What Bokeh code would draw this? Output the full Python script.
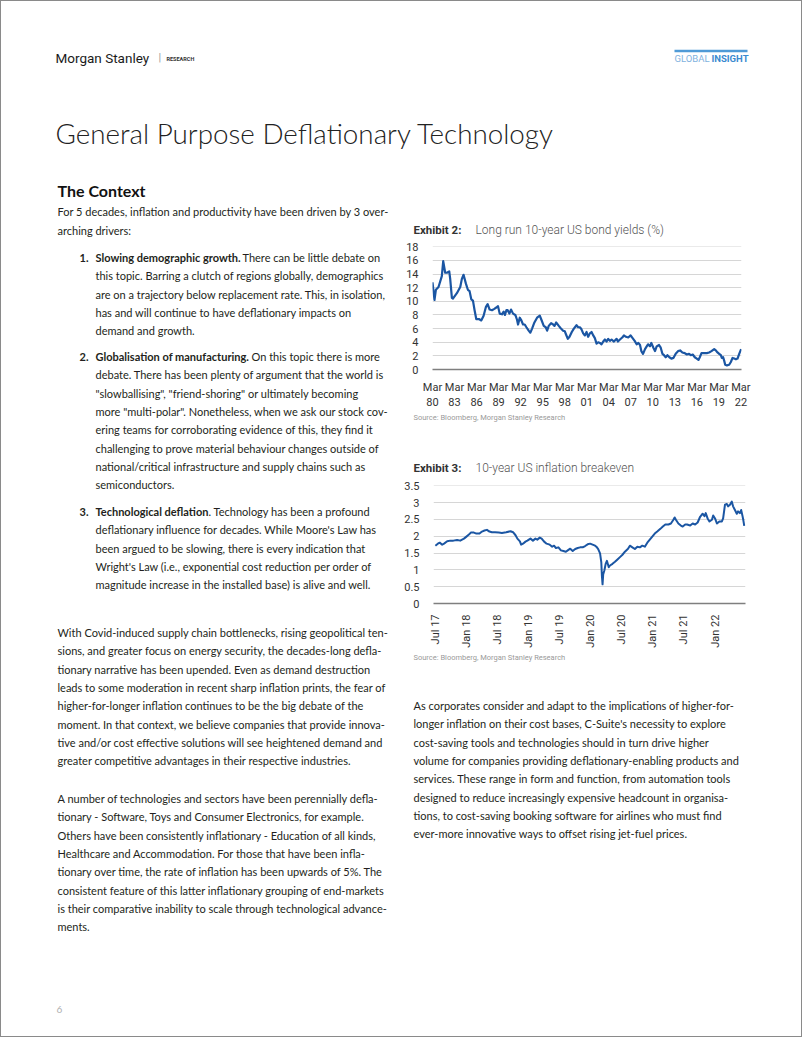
from bokeh.plotting import figure
from bokeh.layouts import column, row
from bokeh.models import Range1d, FixedTicker, GlobalInlineStyleSheet
from bokeh.core.properties import value
from bokeh.embed import file_html
from bokeh.resources import INLINE
import math

# ---------------- data ----------------
yield_years = [1980.17, 1980.44, 1980.63, 1980.99, 1981.44, 1981.63, 1981.90, 1982.13, 1982.45, 1982.58,
               1982.81, 1982.95, 1983.49, 1983.95, 1984.17, 1984.40, 1984.72, 1984.99, 1985.22, 1985.45,
               1985.68, 1985.90, 1986.13, 1986.49, 1986.81, 1987.13, 1987.45, 1987.68, 1987.95, 1988.27,
               1988.59, 1988.86, 1989.09, 1989.32, 1989.63, 1989.86, 1990.04, 1990.23, 1990.41, 1990.64,
               1990.86, 1991.14, 1991.45, 1991.68, 1991.82, 1992.05, 1992.23, 1992.50, 1992.73, 1992.96,
               1993.27, 1993.50, 1993.73, 1994.05, 1994.41, 1994.78, 1995.00, 1995.32, 1995.59, 1995.78,
               1996.00, 1996.32, 1996.60, 1996.78, 1997.01, 1997.37, 1997.60, 1997.96, 1998.19, 1998.37,
               1998.60, 1998.83, 1999.14, 1999.42, 1999.78, 2000.01, 2000.24, 2000.46, 2000.69, 2000.92,
               2001.15, 2001.37, 2001.60, 2001.83, 2002.06, 2002.28, 2002.51, 2002.74, 2002.97, 2003.19,
               2003.42, 2003.65, 2003.88, 2004.10, 2004.33, 2004.56, 2004.88, 2005.24, 2005.42, 2005.70,
               2006.01, 2006.24, 2006.51, 2006.83, 2007.15, 2007.42, 2007.70, 2007.97, 2008.20, 2008.43,
               2008.61, 2008.84, 2009.11, 2009.34, 2009.52, 2009.79, 2009.97, 2010.25, 2010.47, 2010.70,
               2011.02, 2011.25, 2011.48, 2011.70, 2011.93, 2012.16, 2012.43, 2012.70, 2012.98, 2013.29,
               2013.61, 2013.89, 2014.20, 2014.52, 2014.80, 2015.11, 2015.34, 2015.61, 2015.89, 2016.16,
               2016.39, 2016.57, 2016.80, 2017.16, 2017.53, 2017.84, 2018.16, 2018.53, 2018.75, 2018.98,
               2019.21, 2019.44, 2019.57, 2019.75, 2019.89, 2020.03, 2020.26, 2020.57, 2020.80, 2021.03,
               2021.26, 2021.49, 2021.71, 2021.94, 2022.20]
yield_pct = [12.8, 10.2, 11.7, 12.1, 13.7, 15.9, 14.2, 14.2, 14.4, 13.3,
             10.5, 10.4, 11.2, 12.1, 13.3, 13.9, 12.6, 11.7, 11.5, 10.3,
             10.1, 8.7, 7.4, 7.4, 7.2, 7.9, 9.2, 9.6, 8.8, 8.7,
             8.9, 9.1, 9.3, 8.2, 8.1, 8.5, 8.0, 8.7, 8.7, 8.2,
             8.8, 8.2, 8.0, 7.3, 6.6, 7.6, 7.3, 6.6, 6.6, 6.2,
             5.7, 5.4, 6.0, 6.9, 7.6, 7.9, 7.3, 6.4, 6.2, 5.7,
             6.4, 6.8, 6.6, 6.4, 6.9, 6.4, 6.1, 5.7, 5.6, 5.1,
             4.5, 4.8, 5.5, 6.0, 6.5, 6.2, 6.2, 5.9, 5.3, 5.0,
             5.5, 4.8, 5.3, 5.5, 5.0, 4.6, 3.8, 4.0, 3.9, 3.7,
             4.1, 4.4, 4.1, 4.5, 4.2, 4.4, 4.1, 4.5, 4.1, 4.4,
             4.7, 5.0, 4.8, 4.7, 5.0, 4.6, 4.2, 3.7, 3.9, 3.6,
             2.7, 2.3, 3.0, 3.4, 3.7, 3.4, 3.9, 3.2, 2.7, 3.4,
             3.6, 3.2, 2.3, 2.1, 1.8, 2.1, 1.8, 1.6, 1.7, 2.3,
             2.7, 2.8, 2.5, 2.4, 2.2, 2.3, 2.1, 2.2, 1.8, 1.6,
             1.4, 1.8, 2.4, 2.4, 2.4, 2.5, 2.7, 3.0, 2.8, 2.5,
             2.3, 2.1, 1.7, 1.8, 1.3, 0.7, 0.6, 0.7, 1.1, 1.7,
             1.6, 1.5, 1.6, 2.3, 3.0]
yield_ticks = [1980.17, 1983.17, 1986.17, 1989.17, 1992.17, 1995.17, 1998.17, 2001.17,
               2004.17, 2007.17, 2010.17, 2013.17, 2016.17, 2019.17, 2022.17]
yield_tick_labels = ["Mar\n80", "Mar\n83", "Mar\n86", "Mar\n89", "Mar\n92", "Mar\n95", "Mar\n98",
                     "Mar\n01", "Mar\n04", "Mar\n07", "Mar\n10", "Mar\n13", "Mar\n16", "Mar\n19", "Mar\n22"]
yield_yticks = [0, 2, 4, 6, 8, 10, 12, 14, 16, 18]

be_years = [2017.50, 2017.54, 2017.57, 2017.61, 2017.64, 2017.69, 2017.74, 2017.79, 2017.85, 2017.90,
            2017.96, 2018.00, 2018.04, 2018.07, 2018.12, 2018.16, 2018.21, 2018.25, 2018.29, 2018.33,
            2018.37, 2018.41, 2018.46, 2018.52, 2018.57, 2018.64, 2018.71, 2018.75, 2018.79, 2018.82,
            2018.86, 2018.88, 2018.91, 2018.95, 2018.98, 2019.03, 2019.07, 2019.11, 2019.14, 2019.18,
            2019.21, 2019.25, 2019.29, 2019.34, 2019.38, 2019.41, 2019.44, 2019.48, 2019.52, 2019.56,
            2019.60, 2019.63, 2019.67, 2019.71, 2019.75, 2019.79, 2019.83, 2019.87, 2019.91, 2019.95,
            2019.99, 2020.03, 2020.07, 2020.10, 2020.12, 2020.15, 2020.17, 2020.18, 2020.19, 2020.20,
            2020.22, 2020.24, 2020.26, 2020.29, 2020.31, 2020.35, 2020.39, 2020.43, 2020.47, 2020.51,
            2020.55, 2020.60, 2020.63, 2020.67, 2020.71, 2020.75, 2020.79, 2020.83, 2020.87, 2020.91,
            2020.95, 2020.99, 2021.03, 2021.07, 2021.12, 2021.16, 2021.20, 2021.25, 2021.29, 2021.33,
            2021.35, 2021.37, 2021.41, 2021.45, 2021.48, 2021.52, 2021.55, 2021.60, 2021.64, 2021.68,
            2021.72, 2021.76, 2021.80, 2021.83, 2021.85, 2021.88, 2021.91, 2021.95, 2021.97, 2022.00,
            2022.03, 2022.07, 2022.11, 2022.13, 2022.16, 2022.19, 2022.21, 2022.24, 2022.27, 2022.29,
            2022.32, 2022.35, 2022.37, 2022.40, 2022.42, 2022.44, 2022.45, 2022.47]
be_pct = [1.72, 1.78, 1.81, 1.75, 1.78, 1.85, 1.87, 1.87, 1.89, 1.87,
          1.93, 1.99, 2.05, 2.11, 2.11, 2.08, 2.08, 2.14, 2.17, 2.19,
          2.14, 2.12, 2.12, 2.11, 2.10, 2.12, 2.15, 2.12, 2.03, 1.93,
          1.85, 1.75, 1.78, 1.84, 1.87, 1.93, 1.87, 1.93, 1.90, 1.96,
          1.93, 1.84, 1.78, 1.75, 1.69, 1.72, 1.65, 1.67, 1.58, 1.56,
          1.54, 1.58, 1.63, 1.56, 1.62, 1.65, 1.67, 1.67, 1.71, 1.76,
          1.78, 1.75, 1.72, 1.67, 1.62, 1.49, 1.22, 0.81, 0.57, 0.86,
          0.99, 1.18, 1.27, 1.08, 1.13, 1.18, 1.24, 1.31, 1.38, 1.45,
          1.54, 1.63, 1.72, 1.67, 1.62, 1.69, 1.67, 1.72, 1.69, 1.81,
          1.90, 1.99, 2.08, 2.14, 2.22, 2.29, 2.35, 2.35, 2.38, 2.49,
          2.56, 2.49, 2.38, 2.32, 2.29, 2.35, 2.35, 2.32, 2.38, 2.35,
          2.41, 2.58, 2.67, 2.60, 2.69, 2.53, 2.44, 2.49, 2.62, 2.53,
          2.38, 2.44, 2.44, 2.53, 2.94, 2.96, 2.89, 2.94, 3.03, 2.89,
          2.78, 2.67, 2.74, 2.69, 2.78, 2.62, 2.53, 2.31]
be_ticks = [2017.5, 2018.0, 2018.5, 2019.0, 2019.5, 2020.0, 2020.5, 2021.0, 2021.5, 2022.0]
be_tick_labels = ["Jul 17", "Jan 18", "Jul 18", "Jan 19", "Jul 19", "Jan 20", "Jul 20", "Jan 21", "Jul 21", "Jan 22"]
be_yticks = [0, 0.5, 1, 1.5, 2, 2.5, 3, 3.5]
be_ytick_labels = ["0", "0.5", "1", "1.5", "2", "2.5", "3", "3.5"]

# ---------------- text ----------------
title_text = "General Purpose Deflationary Technology"
section_text = "The Context"
intro_lines = ["For 5 decades, inflation and productivity have been driven by 3 over-",
               "arching drivers:"]
item1_bold = "Slowing demographic growth."
item1_lines = ["There can be little debate on",
               "this topic. Barring a clutch of regions globally, demographics",
               "are on a trajectory below replacement rate. This, in isolation,",
               "has and will continue to have deflationary impacts on",
               "demand and growth."]
item2_bold = "Globalisation of manufacturing."
item2_lines = ["On this topic there is more",
               "debate. There has been plenty of argument that the world is",
               "\"slowballising\", \"friend-shoring\" or ultimately becoming",
               "more \"multi-polar\". Nonetheless, when we ask our stock cov-",
               "ering teams for corroborating evidence of this, they find it",
               "challenging to prove material behaviour changes outside of",
               "national/critical infrastructure and supply chains such as",
               "semiconductors."]
item3_bold = "Technological deflation"
item3_lines = [". Technology has been a profound",
               "deflationary influence for decades. While Moore's Law has",
               "been argued to be slowing, there is every indication that",
               "Wright's Law (i.e., exponential cost reduction per order of",
               "magnitude increase in the installed base) is alive and well."]
para2_lines = ["With Covid-induced supply chain bottlenecks, rising geopolitical ten-",
               "sions, and greater focus on energy security, the decades-long defla-",
               "tionary narrative has been upended. Even as demand destruction",
               "leads to some moderation in recent sharp inflation prints, the fear of",
               "higher-for-longer inflation continues to be the big debate of the",
               "moment. In that context, we believe companies that provide innova-",
               "tive and/or cost effective solutions will see heightened demand and",
               "greater competitive advantages in their respective industries."]
para3_lines = ["A number of technologies and sectors have been perennially defla-",
               "tionary - Software, Toys and Consumer Electronics, for example.",
               "Others have been consistently inflationary - Education of all kinds,",
               "Healthcare and Accommodation. For those that have been infla-",
               "tionary over time, the rate of inflation has been upwards of 5%. The",
               "consistent feature of this latter inflationary grouping of end-markets",
               "is their comparative inability to scale through technological advance-",
               "ments."]
right_lines = ["As corporates consider and adapt to the implications of higher-for-",
               "longer inflation on their cost bases, C-Suite's necessity to explore",
               "cost-saving tools and technologies should in turn drive higher",
               "volume for companies providing deflationary-enabling products and",
               "services. These range in form and function, from automation tools",
               "designed to reduce increasingly expensive headcount in organisa-",
               "tions, to cost-saving booking software for airlines who must find",
               "ever-more innovative ways to offset rising jet-fuel prices."]
source_text = "Source: Bloomberg, Morgan Stanley Research"

BODY = value("Lato")
BODY_SIZE = "11px"
BODY_COLOR = "#231f20"
CHART_FONT = value("Roboto")
LINE_BLUE = "#1b56a3"


def text_fig(x0, x1, y0, y1):
    f = figure(width=int(x1 - x0), height=int(y1 - y0),
               x_range=Range1d(x0, x1), y_range=Range1d(y1, y0),
               output_backend="svg", toolbar_location=None,
               x_axis_location=None, y_axis_location=None, min_border=0)
    f.grid.visible = False
    f.outline_line_color = None
    f.background_fill_color = "white"
    f.border_fill_color = "white"
    return f


def put(f, x, y, txt, font=BODY, size=BODY_SIZE, color=BODY_COLOR, style="normal", align="left"):
    f.text(x=[x], y=[y], text=[txt], text_font=font, text_font_size=size,
           text_color=color, text_font_style=style, text_baseline="middle", text_align=align)


def put_lines(f, x, y0, step, lines, **kw):
    for i, ln in enumerate(lines):
        put(f, x, y0 + i * step, ln, **kw)


# ---------------- header ----------------
hdr = text_fig(0, 802, 0, 200)
put(hdr, 55, 57, "Morgan Stanley", font=CHART_FONT, size="13.5px", color="#1a1a1a")
put(hdr, 158, 57, "|", font=CHART_FONT, size="11px", color="#9a9a9a")
put(hdr, 166, 58, "RESEARCH", font=CHART_FONT, size="5.5px", color="#333333", style="bold")
hdr.segment(x0=[674], y0=[50.5], x1=[747], y1=[50.5], line_color="#4f9ad6", line_width=2.5)
put(hdr, 674, 58, "GLOBAL", font=CHART_FONT, size="9.5px", color="#7fb2de")
put(hdr, 711, 58, "INSIGHT", font=CHART_FONT, size="9.5px", color="#3a8ad0", style="bold")
put(hdr, 55, 133, title_text, font=value("Lato Light"), size="27.8px", color="#222222")
put(hdr, 57, 190, section_text, font=BODY, size="16px", color="#111111", style="bold")

# ---------------- left column ----------------
left = text_fig(0, 400, 200, 1037)
STEP = 18.3
put_lines(left, 57, 211, 18.8, intro_lines)
put(left, 79, 257, "1.", style="bold")
put(left, 95, 257, item1_bold, style="bold")
put(left, 242, 257, item1_lines[0])
put_lines(left, 95, 257 + STEP, STEP, item1_lines[1:])
put(left, 79, 356, "2.", style="bold")
put(left, 95, 356, item2_bold, style="bold")
put(left, 251, 356, item2_lines[0])
put_lines(left, 95, 356 + STEP, STEP, item2_lines[1:])
put(left, 79, 511, "3.", style="bold")
put(left, 95, 511, item3_bold, style="bold")
put(left, 208, 511, item3_lines[0])
put_lines(left, 95, 511 + STEP, STEP, item3_lines[1:])
put_lines(left, 57, 632, STEP, para2_lines)
put_lines(left, 57, 798, STEP, para3_lines)
put(left, 56, 1009, "6", size="10px", color="#b0b0b0")

# ---------------- exhibit 2 ----------------
t2 = text_fig(400, 802, 200, 240)
put(t2, 413, 229, "Exhibit 2:", font=CHART_FONT, size="11.5px", color="#333333", style="bold")
put(t2, 475, 229, "Long run 10-year US bond yields (%)", font=value("Roboto Light"), size="12px", color="#555555")

c2 = figure(width=402, height=172, x_range=Range1d(1980.17, 2022.25), y_range=Range1d(0, 18.05),
            output_backend="svg", toolbar_location=None,
            min_border_left=32, min_border_right=61, min_border_top=6, min_border_bottom=34)
c2.line(yield_years, yield_pct, line_color=LINE_BLUE, line_width=2.2, line_join="round")

# ---------------- between ----------------
t3 = text_fig(400, 802, 412, 478)
put(t3, 413, 417, source_text, font=CHART_FONT, size="7.5px", color="#9a9a9a")
put(t3, 413, 467, "Exhibit 3:", font=CHART_FONT, size="11.5px", color="#333333", style="bold")
put(t3, 475, 467, "10-year US inflation breakeven", font=value("Roboto Light"), size="12px", color="#555555")

# ---------------- exhibit 3 ----------------
c3 = figure(width=402, height=172, x_range=Range1d(2017.47, 2022.49), y_range=Range1d(0, 3.51),
            output_backend="svg", toolbar_location=None,
            min_border_left=33, min_border_right=57, min_border_top=7, min_border_bottom=38)
c3.line(be_years, be_pct, line_color=LINE_BLUE, line_width=2.0, line_join="round")

for c, yt, xt, xl in ((c2, yield_yticks, yield_ticks, yield_tick_labels),
                      (c3, be_yticks, be_ticks, be_tick_labels)):
    c.outline_line_color = None
    c.background_fill_color = "white"
    c.border_fill_color = "white"
    c.xgrid.visible = False
    c.ygrid.grid_line_color = "#d6d6d6"
    c.ygrid.grid_line_width = 1
    c.yaxis.ticker = FixedTicker(ticks=yt)
    c.xaxis.ticker = FixedTicker(ticks=xt)
    c.xaxis.major_label_overrides = {t: lab for t, lab in zip(xt, xl)}
    for ax in (c.xaxis[0], c.yaxis[0]):
        ax.major_tick_line_color = None
        ax.minor_tick_line_color = None
        ax.major_label_text_font = "Roboto"
        ax.major_label_text_font_size = "11px"
        ax.major_label_text_color = "#333333"
    c.yaxis.axis_line_color = None
    c.yaxis.major_label_standoff = 8
    c.xaxis.axis_line_color = "#7f7f7f"
    c.xaxis.axis_line_width = 1.5

c2.yaxis.major_label_overrides = {v: str(v) for v in yield_yticks}
c2.xaxis.major_label_standoff = 5
c3.yaxis.major_label_overrides = {v: lab for v, lab in zip(be_yticks, be_ytick_labels)}
c3.xaxis.major_label_orientation = math.pi / 2
c3.xaxis.major_label_standoff = 5

# ---------------- right text ----------------
t4 = text_fig(400, 802, 650, 1037)
put(t4, 413, 657, source_text, font=CHART_FONT, size="7.5px", color="#9a9a9a")
put_lines(t4, 413, 705, STEP, right_lines)

right = column(t2, row(c2), t3, row(c3), t4, spacing=0)
page = column(hdr, row(left, right, spacing=0), spacing=0)
page.stylesheets = [GlobalInlineStyleSheet(css=(
    "body::after{content:'';position:fixed;left:0;top:0;right:0;bottom:0;"
    "border:1px solid #8a8a8a;pointer-events:none;z-index:9999;}"))]

open("out.html", "w").write(file_html(page, INLINE))
